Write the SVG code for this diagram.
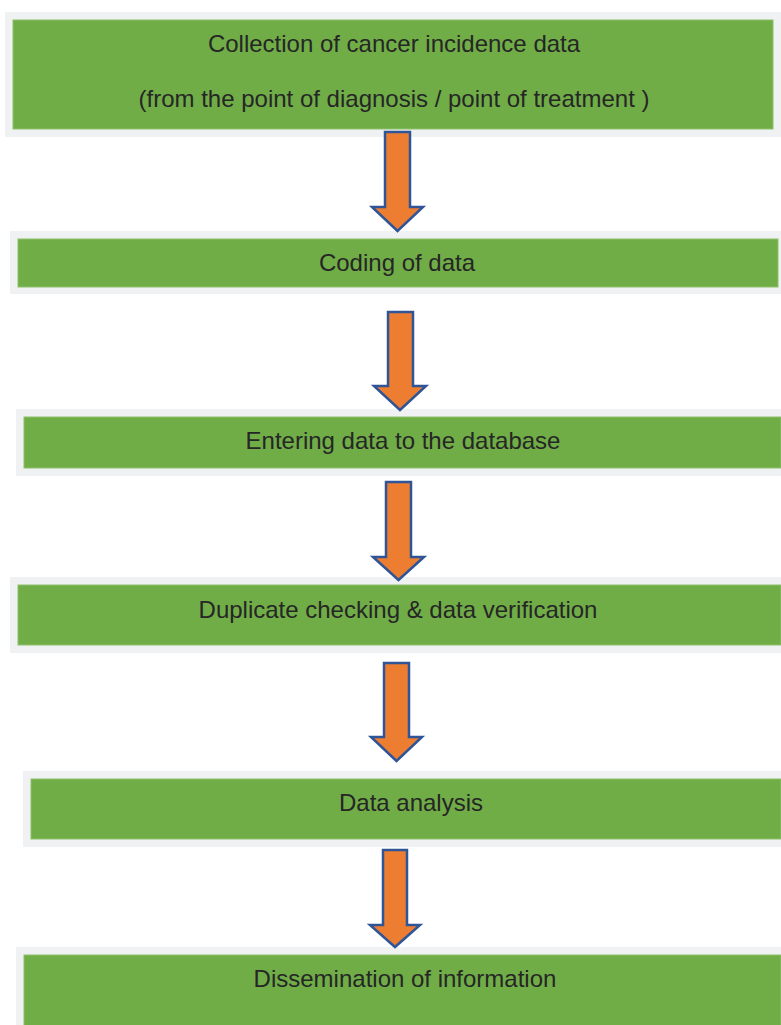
<svg xmlns="http://www.w3.org/2000/svg" width="781" height="1025" viewBox="0 0 781 1025">
<style>
.panel{fill:#F0F1F3}
.box{fill:#70AD47;stroke:#8DC26A;stroke-width:1}
.lbl{font-family:"Liberation Sans",Arial,sans-serif;font-size:24px;fill:#262626;text-anchor:middle}
.arr{fill:#ED7D31;stroke:#2F5597;stroke-width:2.5;stroke-linejoin:miter}
</style>
<rect width="781" height="1025" fill="#FFFFFF"/>
<g id="node1">
<rect class="panel" x="5" y="12" width="776" height="125"/>
<rect class="box" x="13" y="20" width="760" height="109"/>
<text class="lbl" x="394" y="52">Collection of cancer incidence data</text>
<text class="lbl" x="394" y="107">(from the point of diagnosis / point of treatment )</text>
</g>
<g id="node2">
<rect class="panel" x="10" y="231" width="771" height="63"/>
<rect class="box" x="18" y="239" width="760" height="48"/>
<text class="lbl" x="397" y="271">Coding of data</text>
</g>
<g id="node3">
<rect class="panel" x="16" y="409" width="765" height="67"/>
<rect class="box" x="24" y="417" width="757" height="51"/>
<text class="lbl" x="403" y="449">Entering data to the database</text>
</g>
<g id="node4">
<rect class="panel" x="10" y="577" width="771" height="76"/>
<rect class="box" x="18" y="585" width="763" height="60"/>
<text class="lbl" x="398" y="618">Duplicate checking &amp; data verification</text>
</g>
<g id="node5">
<rect class="panel" x="23" y="771" width="758" height="76"/>
<rect class="box" x="31" y="779" width="750" height="60"/>
<text class="lbl" x="411" y="811">Data analysis</text>
</g>
<g id="node6">
<rect class="panel" x="16" y="947" width="765" height="78"/>
<rect class="box" x="24" y="955" width="757" height="75"/>
<text class="lbl" x="405" y="987">Dissemination of information</text>
</g>
<g id="connectors">
<path class="arr" d="M385,132 H410 V207 H423 L397.5,231 L372,207 H385 Z"/>
<path class="arr" d="M388,312 H413 V386 H426 L400,410 L374,386 H388 Z"/>
<path class="arr" d="M386,482 H411 V557 H424 L398.5,580 L373,557 H386 Z"/>
<path class="arr" d="M384,663 H409 V737 H422 L396.5,761 L371,737 H384 Z"/>
<path class="arr" d="M383,850 H407 V925 H420 L395,947 L370,925 H383 Z"/>
</g>
</svg>
